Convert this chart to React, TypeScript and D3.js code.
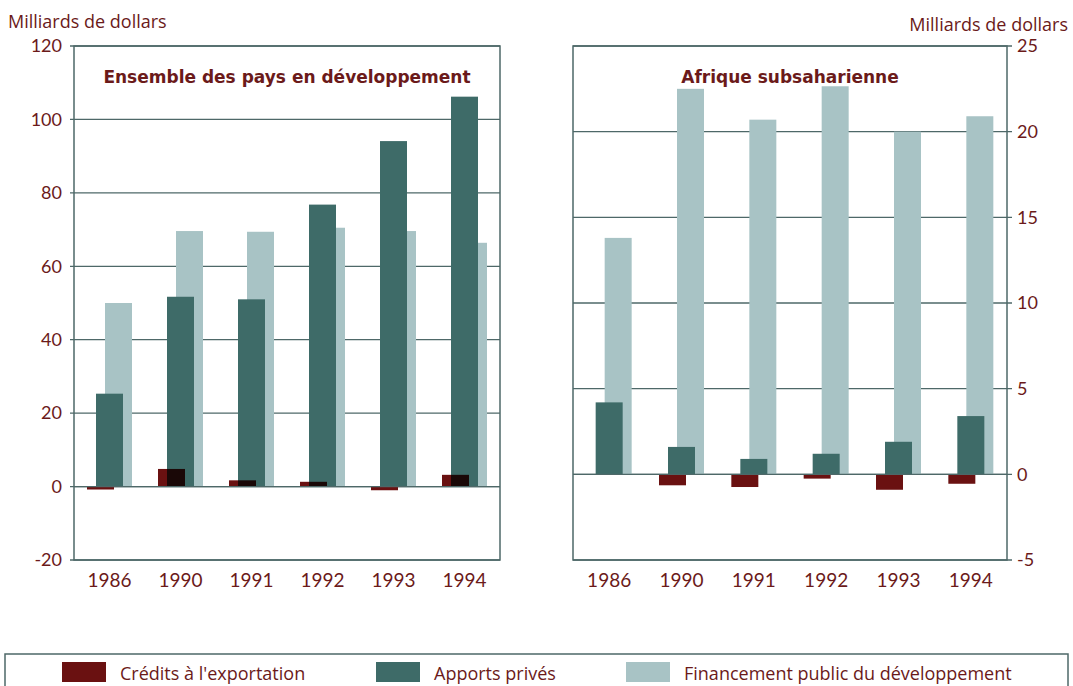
import React from "react";
import * as d3 from "d3";

const categories = ["1986", "1990", "1991", "1992", "1993", "1994"];
const leftExport = [-0.8, 4.8, 1.7, 1.3, -1.0, 3.2];
const leftPrivate = [25.3, 51.7, 51.0, 76.8, 94.1, 106.2];
const leftPublic = [50.0, 69.6, 69.4, 70.5, 69.6, 66.4];
const rightExport = [0, -0.64, -0.74, -0.25, -0.9, -0.55];
const rightPrivate = [4.2, 1.6, 0.9, 1.2, 1.9, 3.4];
const rightPublic = [13.8, 22.5, 20.7, 22.65, 20.0, 20.9];
const leftTicks = [120, 100, 80, 60, 40, 20, 0, -20];
const rightTicks = [25, 20, 15, 10, 5, 0, -5];
const seriesNames = ["Crédits à l'exportation", "Apports privés", "Financement public du développement"];

const C_RED = "#6a1111";
const C_TEAL = "#3e6b68";
const C_LIGHT = "#a8c3c5";
const C_TEXT = "#6b1a1a";
const C_GRID = "#4e6868";
const TICK_FONT = "Lato, 'Open Sans', sans-serif";
const LABEL_FONT = "'Open Sans', Lato, sans-serif";

type PanelProps = {
  x0: number; x1: number; y0: number; y1: number;
  domain: [number, number]; ticks: number[];
  exp: number[]; priv: number[]; pub: number[];
  title: string; titleX: number; side: "left" | "right";
};

function Panel(p: PanelProps) {
  const x = d3.scaleBand<string>().domain(categories).range([p.x0, p.x1]).padding(0);
  const y = d3.scaleLinear().domain(p.domain).range([p.y1, p.y0]);
  const groupW = 45, barW = 27;
  const offsets = [0, 9, 18];
  const gx = (c: string) => (x(c) as number) + x.bandwidth() / 2 - groupW / 2;
  const bar = (vals: number[], k: number, color: string, blend?: boolean) =>
    categories.map((c, i) => {
      const v = vals[i];
      if (v === 0) return null;
      const top = y(Math.max(0, v));
      const bot = y(Math.min(0, v));
      return (
        <rect key={c + k} x={gx(c) + offsets[k]} y={top} width={barW} height={Math.max(0.5, bot - top)}
          fill={color} style={blend ? { mixBlendMode: "multiply" } : undefined} />
      );
    });
  return (
    <g>
      {p.ticks.map((t) => (
        <line key={"g" + t} x1={p.side === "left" ? p.x0 - 4 : p.x0} x2={p.side === "right" ? p.x1 + 5 : p.x1}
          y1={y(t)} y2={y(t)} stroke={C_GRID} strokeWidth={1.3} />
      ))}
      <g style={{ isolation: "isolate" }}>
        {bar(p.pub, 2, C_LIGHT)}
        {bar(p.priv, 1, C_TEAL)}
        {bar(p.exp, 0, C_RED, true)}
      </g>
      <line x1={p.x0} x2={p.x1} y1={y(0)} y2={y(0)} stroke={C_GRID} strokeWidth={1.3} />
      <rect x={p.x0} y={p.y0} width={p.x1 - p.x0} height={p.y1 - p.y0} fill="none" stroke={C_GRID} strokeWidth={1.5} />
      {p.ticks.map((t) => (
        <text key={"t" + t} x={p.side === "left" ? p.x0 - 12 : p.x1 + 10} y={y(t)} dy="0.35em"
          textAnchor={p.side === "left" ? "end" : "start"} fontFamily={TICK_FONT} fontSize={18} fill={C_TEXT}>{t}</text>
      ))}
      {categories.map((c) => (
        <text key={"x" + c} x={(x(c) as number) + x.bandwidth() / 2} y={587} textAnchor="middle"
          fontFamily={TICK_FONT} fontSize={19} fill={C_TEXT}>{c}</text>
      ))}
      <text x={p.titleX} y={83} textAnchor="middle" fontFamily="'DejaVu Sans', Verdana, sans-serif" fontWeight="bold"
        fontSize={17} fill={C_TEXT}>{p.title}</text>
    </g>
  );
}

export default function App() {
  const legendColors = [C_RED, C_TEAL, C_LIGHT];
  const legendX = [62, 376, 626];
  return (
    <div style={{ position: "absolute", left: 0, top: 0 }}>
      <svg width={1073} height={686} style={{ display: "block", background: "#fff" }}>
        <text x={8} y={28} fontFamily={LABEL_FONT} fontSize={18} fill={C_TEXT}>Milliards de dollars</text>
        <text x={1068} y={31} textAnchor="end" fontFamily={LABEL_FONT} fontSize={18} fill={C_TEXT}>Milliards de dollars</text>
        <Panel x0={74} x1={500} y0={46} y1={560} domain={[-20, 120]} ticks={leftTicks}
          exp={leftExport} priv={leftPrivate} pub={leftPublic}
          title="Ensemble des pays en développement" titleX={287} side="left" />
        <Panel x0={573} x1={1007} y0={46} y1={560} domain={[-5, 25]} ticks={rightTicks}
          exp={rightExport} priv={rightPrivate} pub={rightPublic}
          title="Afrique subsaharienne" titleX={790} side="right" />
        <rect x={5} y={654} width={1063} height={40} fill="none" stroke={C_GRID} strokeWidth={1.5} />
        {seriesNames.map((s, i) => (
          <g key={s}>
            <rect x={legendX[i]} y={662} width={44} height={20} fill={legendColors[i]} />
            <text x={legendX[i] + 58} y={680} fontFamily={LABEL_FONT} fontSize={18} fill={C_TEXT}>{s}</text>
          </g>
        ))}
      </svg>
    </div>
  );
}
